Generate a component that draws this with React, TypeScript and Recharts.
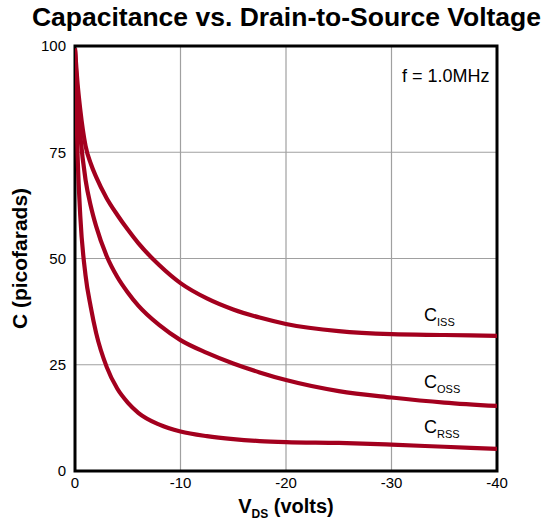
import React from 'react';
import { LineChart, Line, XAxis, YAxis, CartesianGrid, ReferenceArea, Label } from 'recharts';

// drain-to-source voltage (volts)
const volts = [0, -0.25, -0.5, -1, -1.5, -2, -3, -4, -5, -6, -8, -10, -12.5, -15, -17.5, -20, -25, -30, -35, -40];
// capacitance (pF)
const ciss = [99.5, 91, 85, 76.5, 72.3, 69.2, 64.2, 60.3, 56.8, 53.6, 48.4, 44.2, 40.6, 38, 36.1, 34.6, 32.9, 32.2, 32, 31.8];
const coss = [99, 87, 79, 68.5, 62.3, 57.6, 50.6, 45.7, 42, 38.9, 34.3, 30.8, 27.8, 25.3, 23.2, 21.4, 18.8, 17.3, 16.1, 15.3];
const crss = [99, 74, 60, 46, 38.5, 32.5, 24.5, 19.4, 16.1, 13.7, 10.9, 9.3, 8.2, 7.5, 7.05, 6.8, 6.6, 6.2, 5.7, 5.2];

const xTicks = [0, -10, -20, -30, -40];
const yTicks = [0, 25, 50, 75, 100];

const data = volts.map((v, i) => ({ v, ciss: ciss[i], coss: coss[i], crss: crss[i] }));

const FONT = '"Liberation Sans", Arial, Helvetica, sans-serif';
const RED = '#a3001e';

const XLabel = (props: any) => {
  const { viewBox } = props;
  const cx = viewBox.x + viewBox.width / 2;
  return (
    <text x={cx} y={513} textAnchor="middle" fontFamily={FONT} fontWeight="bold" fontSize={20} fill="#000">
      <tspan>V</tspan>
      <tspan fontSize={12} dy={5}>DS</tspan>
      <tspan dy={-5}> (volts)</tspan>
    </text>
  );
};

const SubLabel = ({ left, top, main, sub }: { left: number; top: number; main: string; sub: string }) => (
  <div style={{ position: 'absolute', left, top, fontFamily: FONT, fontSize: 18, lineHeight: 1, color: '#000', whiteSpace: 'nowrap' }}>
    {main}
    <span style={{ fontSize: 11, position: 'relative', top: 5 }}>{sub}</span>
  </div>
);

export default function App() {
  return (
    <div style={{ position: 'absolute', left: 0, top: 0, width: 545, height: 524, background: '#fff' }}>
      <div
        style={{
          position: 'absolute',
          left: 0,
          width: 573,
          top: 4,
          textAlign: 'center',
          fontFamily: FONT,
          fontWeight: 'bold',
          fontSize: 26.5,
          lineHeight: 1,
          color: '#000',
          whiteSpace: 'nowrap',
        }}
      >
        Capacitance vs. Drain-to-Source Voltage
      </div>
      <LineChart width={545} height={524} data={data} margin={{ top: 46, right: 48, left: 0, bottom: 0 }}>
        <CartesianGrid stroke="#a0a0a0" strokeWidth={1.2} />
        <XAxis
          dataKey="v"
          type="number"
          domain={[-40, 0]}
          reversed
          ticks={xTicks}
          height={53}
          tickSize={0}
          tickMargin={6}
          axisLine={false}
          tickLine={false}
          tick={{ fill: '#000', fontSize: 15, fontFamily: FONT }}
          allowDataOverflow
        >
          <Label content={<XLabel />} />
        </XAxis>
        <YAxis
          type="number"
          domain={[0, 100]}
          ticks={yTicks}
          width={75}
          tickSize={0}
          tickMargin={9}
          axisLine={false}
          tickLine={false}
          tick={{ fill: '#000', fontSize: 15, fontFamily: FONT }}
          allowDataOverflow
        >
          <Label
            value="C (picofarads)"
            angle={-90}
            position="insideLeft"
            offset={20}
            style={{ textAnchor: 'middle', fontFamily: FONT, fontWeight: 'bold', fontSize: 21, fill: '#000' }}
          />
        </YAxis>
        <ReferenceArea x1={-40} x2={0} y1={0} y2={100} fill="none" stroke="#000" strokeWidth={3} ifOverflow="visible" />
        <Line dataKey="ciss" type="monotone" stroke={RED} strokeWidth={4.2} dot={false} isAnimationActive={false} />
        <Line dataKey="coss" type="monotone" stroke={RED} strokeWidth={4.2} dot={false} isAnimationActive={false} />
        <Line dataKey="crss" type="monotone" stroke={RED} strokeWidth={4.2} dot={false} isAnimationActive={false} />
      </LineChart>
      <div style={{ position: 'absolute', left: 402, top: 67, fontFamily: FONT, fontSize: 18, lineHeight: 1, color: '#000' }}>
        f = 1.0MHz
      </div>
      <SubLabel left={424} top={306} main="C" sub="ISS" />
      <SubLabel left={424} top={373} main="C" sub="OSS" />
      <SubLabel left={424} top={418} main="C" sub="RSS" />
    </div>
  );
}
